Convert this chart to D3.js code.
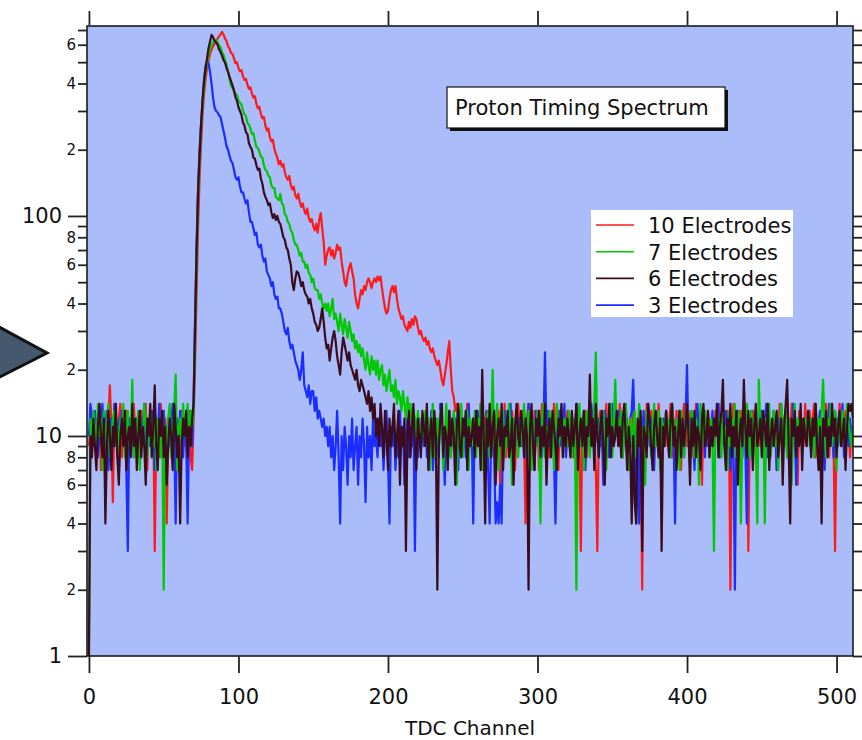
<!DOCTYPE html>
<html>
<head>
<meta charset="utf-8">
<script src="https://cdnjs.cloudflare.com/ajax/libs/d3/7.8.5/d3.min.js"></script>
<style>
  body { margin: 0; background: #fff; }
  text { font-family: "DejaVu Sans", sans-serif; fill: #111; }
</style>
</head>
<body>
<svg id="timingSpectrum" width="862" height="740"></svg>
<script>
// counts per TDC channel (index = channel), 32 channels per row
let red10 = [
  9,11,8,13,10,12,9,14,7,11,13,10,8,12,17,11,5,13,10,9,12,14,8,11,10,13,7,12,9,11,14,10,
  12,8,11,13,9,10,14,7,12,11,9,13,3,10,12,8,14,11,9,12,4,10,13,8,11,14,9,12,7,10,13,11,
  9,12,10,13,8,7,12,22,45,90,150,215,290,360,420,470,510,545,570,590,605,620,640,655,668,686,668,640,625,590,578,550,
  545,520,495,500,470,455,460,432,415,420,395,378,384,360,345,350,322,308,314,290,278,282,258,244,250,228,218,222,202,192,184,172,
  178,168,172,158,150,146,152,138,132,136,124,120,126,116,110,114,106,102,108,98,94,97,90,86,92,84,96,103,88,76,60,66,
  70,72,66,70,64,68,74,70,72,62,56,50,48,54,58,61,56,52,44,40,38,42,46,44,48,46,50,52,50,47,50,52,
  50,53,51,53,47,42,38,36,37,42,46,48,45,48,42,38,36,34,35,32,31,30,33,31,34,32,35,34,31,29,30,28,
  27,28,26,27,25,24,25,23,22,21,22,20,18,17,19,21,24,27,20,16,15,13,14,12,11,13,9,12,10,14,8,11,
  10,12,8,13,11,9,14,10,7,12,13,9,11,8,14,10,12,9,13,6,11,10,14,8,12,9,11,13,10,7,12,14,
  11,9,13,10,4,12,14,8,11,9,13,10,12,7,11,14,9,12,10,13,8,11,9,14,12,10,7,13,11,9,12,10,
  13,9,11,12,8,10,14,11,9,3,12,10,13,8,11,14,9,12,10,7,3,11,13,9,12,10,14,8,11,13,9,12,
  10,12,9,14,11,8,13,10,12,7,11,9,14,12,10,8,13,11,2,12,9,14,10,11,13,8,12,9,11,14,10,7,
  12,10,13,9,11,14,8,12,10,13,9,11,7,12,14,10,9,13,11,8,12,10,14,9,11,13,6,12,10,9,13,11,
  10,12,9,13,11,14,8,12,10,11,9,13,12,2,10,14,9,12,11,8,13,10,12,9,14,3,11,10,13,9,12,11,
  9,13,11,10,12,8,14,10,11,9,13,12,7,10,14,11,9,12,13,8,11,10,14,9,12,11,6,13,10,12,9,14,
  11,10,13,9,12,14,8,11,10,13,9,12,11,14,10,8,12,13,9,3,11,10,14,12,9,11,13,10,12,8,11,10
];

let green7 = [
  1,12,9,13,11,8,14,10,12,7,13,9,11,14,8,10,12,13,9,11,7,12,10,14,8,11,13,9,10,18,8,12,
  10,13,7,11,9,14,12,8,10,13,11,9,14,7,12,10,8,13,2,11,9,12,14,8,10,13,19,7,11,12,9,14,
  10,12,14,9,13,11,13,28,62,120,180,250,320,390,450,500,540,575,600,615,625,632,615,598,585,556,540,512,488,456,420,392,
  382,370,358,354,334,328,320,302,290,284,264,260,250,236,238,220,206,204,196,186,184,170,162,160,152,150,138,134,134,122,120,118,
  126,114,112,102,100,94,92,86,84,78,74,74,70,66,68,62,62,58,60,55,54,50,52,47,46,46,42,44,40,38,40,37,
  40,35,38,42,34,36,33,30,36,32,29,34,31,28,33,30,27,29,25,27,24,26,23,25,22,20,24,21,19,23,20,22,
  19,22,18,20,21,17,19,16,18,20,16,17,15,18,14,16,15,13,16,14,12,15,13,14,11,13,12,10,13,11,9,12,
  10,13,9,12,7,11,14,8,10,12,9,13,11,7,10,14,9,12,8,11,13,10,6,12,9,14,8,11,10,13,7,12,
  11,9,13,8,12,10,14,7,11,9,12,13,8,10,20,9,11,14,7,12,10,13,8,11,9,14,10,6,12,11,13,8,
  10,12,9,14,11,8,13,10,7,12,11,9,13,10,4,12,14,8,11,9,13,10,12,7,11,14,9,10,13,8,12,11,
  9,13,11,8,12,10,2,11,14,9,12,7,10,13,11,8,12,9,14,24,10,8,12,11,13,9,7,12,10,14,8,11,
  18,10,12,9,13,8,11,14,10,7,12,9,11,13,8,10,14,12,9,11,6,13,10,12,8,11,14,9,10,13,7,12,
  11,9,13,10,12,8,14,11,9,12,10,7,13,11,8,12,14,9,10,13,11,8,12,10,6,14,9,11,13,10,12,8,
  12,10,3,11,13,9,12,8,14,10,11,7,13,9,12,10,14,8,11,13,4,10,12,9,14,11,8,13,10,12,9,4,
  18,11,9,13,4,12,10,14,8,11,13,9,12,7,10,14,11,9,13,8,12,10,6,11,14,9,12,10,13,8,11,12,
  10,13,9,12,11,8,14,10,12,9,13,18,11,8,12,10,14,9,11,13,7,12,10,9,13,11,8,14,12,10,9,11
];

let brown6 = [
  1,10,8,12,9,7,11,14,10,8,12,4,9,13,10,7,11,9,14,8,6,10,12,9,13,7,10,11,8,14,9,12,
  7,10,13,8,11,9,6,12,10,14,8,11,17,9,7,12,10,13,8,11,6,9,12,10,7,14,11,8,10,4,9,12,
  10,13,8,11,9,12,14,32,70,130,190,260,340,410,470,520,580,620,665,650,625,615,600,572,556,535,510,498,470,452,430,410,
  392,372,346,334,312,300,288,266,258,240,236,214,206,200,184,182,170,162,164,148,140,128,122,118,112,114,104,98,102,96,100,94,
  92,86,80,78,72,70,64,60,50,46,52,56,55,52,48,50,46,44,43,40,42,38,36,33,32,30,31,34,38,33,28,25,
  26,22,25,28,30,27,23,21,19,24,28,26,24,22,24,21,20,19,18,20,17,16,18,17,16,15,14,16,13,15,12,14,
  10,12,9,14,11,8,13,10,7,12,9,11,14,8,10,13,6,11,9,12,3,10,13,8,11,14,9,7,12,10,8,13,
  11,9,14,7,10,12,8,13,10,2,9,12,14,8,11,10,7,13,9,12,10,6,11,14,9,8,12,10,13,7,11,9,
  10,12,8,13,9,11,7,20,10,4,12,9,14,8,11,13,6,10,12,9,14,7,11,10,13,8,9,12,6,11,14,10,
  9,13,11,8,12,10,2,11,14,9,7,12,10,13,8,11,9,14,6,10,12,8,13,11,9,7,12,10,14,8,11,9,
  12,10,8,13,9,11,14,7,10,12,9,13,8,11,10,19,9,12,7,14,10,8,11,13,9,6,12,10,14,8,11,9,
  10,13,9,11,8,12,14,10,7,11,9,4,10,5,4,12,9,13,3,11,10,8,14,12,9,7,11,13,10,8,12,3,
  11,9,13,10,8,12,14,9,11,7,10,13,8,12,9,11,14,10,6,12,9,13,8,11,10,7,12,14,9,10,13,8,
  11,9,12,10,14,8,11,13,18,9,7,12,10,14,8,11,9,13,6,10,12,9,18,11,8,13,10,12,7,11,14,9,
  10,12,8,13,11,9,14,7,10,12,9,11,13,8,10,12,6,11,14,18,9,4,12,10,13,8,11,9,14,7,12,10,
  9,13,11,8,12,10,14,9,7,11,4,12,10,13,8,11,9,14,10,12,8,11,13,9,10,12,7,11,14,13,14,12
];

let blue3 = [
  10,14,12,9,13,11,8,10,12,14,9,11,13,7,10,12,9,14,11,8,12,10,13,9,11,7,3,12,10,13,8,11,
  12,9,13,10,11,14,8,12,10,9,13,11,7,12,10,14,9,11,13,8,10,12,9,11,14,10,4,12,9,13,11,8,
  12,10,4,11,13,9,15,35,75,135,200,265,330,420,480,505,495,450,400,345,312,300,296,286,282,262,244,226,208,200,188,178,
  174,162,150,146,150,136,128,128,120,114,118,104,94,94,88,82,84,74,72,74,66,62,64,56,54,52,48,50,44,42,43,38,
  38,36,33,30,29,31,27,25,26,24,22,21,20,18,20,24,17,16,15,17,14,16,16,13,15,12,13,12,11,12,10,11,
  9,11,8,10,7,9,13,8,4,10,7,11,9,6,10,8,12,7,9,11,6,10,8,12,9,5,11,8,10,7,12,9,
  10,8,12,9,11,7,10,13,8,4,11,9,12,7,10,8,13,9,11,6,10,12,8,11,9,13,3,10,8,12,9,11,
  9,12,8,11,10,13,7,9,12,10,8,14,11,9,6,12,10,13,8,11,9,12,10,7,13,11,9,12,8,10,14,9,
  11,4,12,9,13,10,8,12,11,9,13,7,4,10,12,8,4,5,4,6,4,11,13,9,12,10,14,8,11,9,13,10,
  12,9,11,13,8,10,14,9,12,11,7,13,10,9,12,8,11,24,10,13,9,12,11,8,4,10,13,9,12,11,14,8,
  10,13,9,12,11,8,14,10,12,9,11,13,7,10,12,9,14,11,8,13,10,12,9,11,6,13,10,12,8,11,14,9,
  11,10,13,9,12,8,11,14,10,9,12,13,18,10,4,9,4,12,10,13,8,11,14,9,12,10,7,13,11,9,12,10,
  12,9,13,10,11,8,14,10,4,12,9,13,11,10,8,12,21,9,11,13,10,7,12,14,9,11,10,13,8,12,9,11,
  10,13,9,12,11,14,8,10,12,9,13,11,10,7,12,9,2,11,13,10,12,8,14,9,4,11,10,13,9,12,11,8,
  12,10,13,9,11,14,8,12,10,9,13,11,7,12,10,14,9,11,13,8,12,10,9,14,11,6,12,10,13,9,11,12,
  9,13,11,10,12,8,14,9,11,13,10,12,7,11,9,14,10,12,8,13,11,9,12,10,14,8,11,13,9,12,10,11
];

let seriesNames = ["10 Electrodes", "7 Electrodes", "6 Electrodes", "3 Electrodes"];
let seriesColors = ["#ff1a1a", "#00c800", "#3a0c1c", "#1c2dff"];
let xTicks = [0, 100, 200, 300, 400, 500];
let yMajorTicks = [1, 10, 100];
let yMinorTicks = [2, 3, 4, 5, 6, 7, 8, 9, 20, 30, 40, 50, 60, 70, 80, 90, 200, 300, 400, 500, 600, 700];
let yMinorLabeled = ["2", "4", "6", "8"];

let svg = d3.select("#timingSpectrum"),
    plot = {left: 87, right: 853, top: 26, bottom: 656};

let x = d3.scaleLinear().domain([-1.3, 511]).range([plot.left, plot.right]),
    y = d3.scaleLog().domain([1, 730]).range([plot.bottom, plot.top]);

// slide arrow sticking in from the left
svg.append("polygon")
  .attr("points", "-10,322 47,353 -10,382")
  .attr("fill", "#44586e")
  .attr("stroke", "#111")
  .attr("stroke-width", 3);

svg.append("rect")
  .attr("x", plot.left).attr("y", plot.top)
  .attr("width", plot.right - plot.left).attr("height", plot.bottom - plot.top)
  .attr("fill", "#aabcf9");

svg.append("clipPath").attr("id", "plotClip")
  .append("rect")
  .attr("x", plot.left).attr("y", plot.top)
  .attr("width", plot.right - plot.left).attr("height", plot.bottom - plot.top);

let line = d3.line()
  .x(function (d, i) { return x(i); })
  .y(function (d) { return y(d); });

// draw order: red, blue, green, brown on top
let drawOrder = [
  {data: red10, color: seriesColors[0]},
  {data: blue3, color: seriesColors[3]},
  {data: green7, color: seriesColors[1]},
  {data: brown6, color: seriesColors[2]}
];

svg.append("g")
  .attr("clip-path", "url(#plotClip)")
  .selectAll("path")
  .data(drawOrder)
  .enter().append("path")
  .attr("d", function (d) { return line(d.data); })
  .attr("fill", "none")
  .attr("stroke", function (d) { return d.color; })
  .attr("stroke-width", 2.2)
  .attr("stroke-linejoin", "round");

// frame
svg.append("rect")
  .attr("x", plot.left).attr("y", plot.top)
  .attr("width", plot.right - plot.left).attr("height", plot.bottom - plot.top)
  .attr("fill", "none")
  .attr("stroke", "#1a1a1a")
  .attr("stroke-width", 1.6);

let styleAxis = function (g) {
  g.select(".domain").remove();
  g.selectAll(".tick line").attr("stroke", "#222").attr("stroke-width", 1.8);
  g.selectAll(".tick text").attr("fill", "#111").attr("font-family", "DejaVu Sans");
};

// AXES
svg.append("g")
  .attr("transform", "translate(0," + plot.bottom + ")")
  .call(d3.axisBottom(x).tickValues(xTicks).tickSize(17).tickPadding(16).tickFormat(d3.format("d")))
  .call(styleAxis)
  .selectAll(".tick text").attr("font-size", 21);

svg.append("g")
  .attr("transform", "translate(0," + (plot.top - 1) + ")")
  .call(d3.axisTop(x).tickValues(xTicks).tickSize(14).tickFormat(""))
  .call(styleAxis);

svg.append("g")
  .attr("transform", "translate(" + plot.left + ",0)")
  .call(d3.axisLeft(y).tickValues(yMajorTicks).tickSize(19).tickPadding(6).tickFormat(d3.format("d")))
  .call(styleAxis)
  .selectAll(".tick text").attr("font-size", 21);

svg.append("g")
  .attr("transform", "translate(" + plot.left + ",0)")
  .call(d3.axisLeft(y).tickValues(yMinorTicks).tickSize(9).tickPadding(2)
    .tickFormat(function (d) {
      let lead = String(d)[0];
      return yMinorLabeled.indexOf(lead) >= 0 ? lead : "";
    }))
  .call(styleAxis)
  .selectAll(".tick text").attr("font-size", 15);

svg.append("g")
  .attr("transform", "translate(" + plot.right + ",0)")
  .call(d3.axisRight(y).tickValues(yMajorTicks).tickSize(19).tickFormat(""))
  .call(styleAxis);

svg.append("g")
  .attr("transform", "translate(" + plot.right + ",0)")
  .call(d3.axisRight(y).tickValues(yMinorTicks).tickSize(9).tickFormat(""))
  .call(styleAxis);

//AXIS TITLE
svg.append("text")
  .attr("x", 470)
  .attr("y", 735)
  .attr("text-anchor", "middle")
  .attr("font-size", 20)
  .text("TDC Channel");

// TITLE BOX
let titleBox = svg.append("g").attr("transform", "translate(447,87)");
titleBox.append("rect")
  .attr("x", 3).attr("y", 3).attr("width", 278).attr("height", 41)
  .attr("fill", "#111");
titleBox.append("rect")
  .attr("width", 278).attr("height", 41)
  .attr("fill", "#fff").attr("stroke", "#111").attr("stroke-width", 1.2);
titleBox.append("text")
  .attr("x", 8).attr("y", 28)
  .attr("font-size", 21)
  .text("Proton Timing Spectrum");

// LEGEND
let legendBox = svg.append("g").attr("transform", "translate(591,210)");
legendBox.append("rect")
  .attr("width", 202).attr("height", 107)
  .attr("fill", "#fff");

let legend = legendBox.selectAll(".entry")
  .data(seriesNames)
  .enter().append("g")
  .attr("class", "entry")
  .attr("transform", function (d, i) { return "translate(0," + (15 + i * 26.7) + ")"; });

legend.append("line")
  .attr("x1", 5).attr("x2", 43)
  .attr("stroke", function (d, i) { return seriesColors[i]; })
  .attr("stroke-width", 1.6);

legend.append("text")
  .attr("x", 57).attr("y", 8)
  .attr("font-size", 21)
  .text(function (d) { return d; });
</script>
</body>
</html>
